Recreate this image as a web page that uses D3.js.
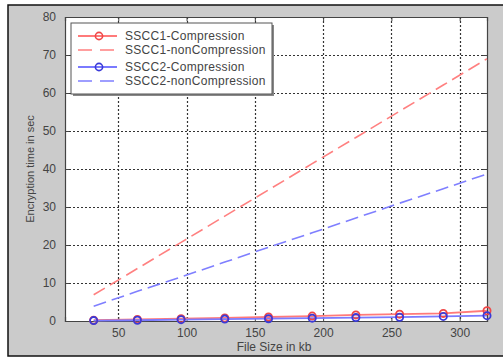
<!DOCTYPE html>
<html>
<head>
<meta charset="utf-8">
<script src="https://cdn.jsdelivr.net/npm/d3@7"></script>
<style>
  body { margin: 0; background: #fff; }
  svg { display: block; }
  text { font-family: "Liberation Sans", Arial, sans-serif; fill: #444; }
</style>
</head>
<body>
<div id="chart"></div>
<script>
// file sizes (kb)
const fileSizes = [32, 64, 96, 128, 160, 192, 224, 256, 288, 320];
// encryption time in sec
const sscc1Comp = [0.2, 0.4, 0.6, 0.8, 1.05, 1.3, 1.6, 1.8, 2.0, 2.7];
const sscc1NonComp = [6.9, 13.8, 20.7, 27.6, 34.5, 41.4, 48.3, 55.2, 62.1, 69.0];
const sscc2Comp = [0.1, 0.2, 0.35, 0.5, 0.6, 0.75, 0.9, 1.0, 1.2, 1.4];
const sscc2NonComp = [3.9, 7.8, 11.6, 15.5, 19.4, 23.2, 27.1, 31.0, 34.8, 38.7];

const xTicks = [50, 100, 150, 200, 250, 300];
const yTicks = [0, 10, 20, 30, 40, 50, 60, 70, 80];

const series = [
  { name: 'SSCC1-Compression', values: sscc1Comp, color: '#ff7a7a', marker: '#f04848', dash: null },
  { name: 'SSCC1-nonCompression', values: sscc1NonComp, color: '#ff8080', marker: null, dash: '13,6' },
  { name: 'SSCC2-Compression', values: sscc2Comp, color: '#7a7aff', marker: '#3a3ad8', dash: null },
  { name: 'SSCC2-nonCompression', values: sscc2NonComp, color: '#7f7fff', marker: null, dash: '13,6' },
];

const W = 503, H = 358;
const plot = { left: 65, top: 17, right: 487, bottom: 321 };

const svg = d3.select('#chart').append('svg').attr('width', W).attr('height', H);

// figure frame
svg.append('rect')
  .attr('x', 8).attr('y', 5).attr('width', W).attr('height', 351)
  .attr('fill', '#cbcbcb').attr('stroke', '#111').attr('stroke-width', 1.5);

const x = d3.scaleLinear().domain([11, 320]).range([plot.left, plot.right]);
const y = d3.scaleLinear().domain([0, 80]).range([plot.bottom, plot.top]);

// axes box
svg.append('rect')
  .attr('x', plot.left).attr('y', plot.top)
  .attr('width', plot.right - plot.left).attr('height', plot.bottom - plot.top)
  .attr('fill', '#fff');

// grid
const grid = svg.append('g').attr('stroke', '#333').attr('stroke-width', 1.2).attr('stroke-dasharray', '2,2');
grid.selectAll('.gx').data(xTicks).join('line')
  .attr('x1', d => Math.round(x(d)) + 0.5).attr('x2', d => Math.round(x(d)) + 0.5)
  .attr('y1', plot.top).attr('y2', plot.bottom);
grid.selectAll('.gy').data(yTicks.filter(d => d > 0 && d < 80)).join('line')
  .attr('y1', d => Math.round(y(d)) + 0.5).attr('y2', d => Math.round(y(d)) + 0.5)
  .attr('x1', plot.left).attr('x2', plot.right);

// axes with inward ticks on all sides
const axisG = svg.append('g');
axisG.append('g').attr('transform', `translate(0,${plot.bottom})`)
  .call(d3.axisBottom(x).tickValues(xTicks).tickSize(-4).tickPadding(7));
axisG.append('g').attr('transform', `translate(0,${plot.top})`)
  .call(d3.axisTop(x).tickValues(xTicks).tickSize(-4).tickFormat(''));
axisG.append('g').attr('transform', `translate(${plot.left},0)`)
  .call(d3.axisLeft(y).tickValues(yTicks).tickSize(-4).tickPadding(9));
axisG.append('g').attr('transform', `translate(${plot.right},0)`)
  .call(d3.axisRight(y).tickValues(yTicks).tickSize(-4).tickFormat(''));
axisG.selectAll('.domain').attr('stroke', '#444').attr('stroke-width', 1.2);
axisG.selectAll('.tick line').attr('stroke', '#444');
axisG.selectAll('.tick text').attr('font-size', 12).attr('fill', '#444')
  .style('font-family', '"Liberation Sans", Arial, sans-serif');

// lines
const line = d3.line().x((d, i) => x(fileSizes[i])).y(d => y(d));
const lines = svg.append('g');
series.forEach(s => {
  lines.append('path').datum(s.values)
    .attr('d', line).attr('fill', 'none')
    .attr('stroke', s.color).attr('stroke-width', s.dash ? 1.6 : 1.8)
    .attr('stroke-dasharray', s.dash);
});
series.filter(s => s.marker).forEach(s => {
  lines.append('g').selectAll('circle').data(s.values).join('circle')
    .attr('cx', (d, i) => x(fileSizes[i])).attr('cy', d => y(d)).attr('r', 3.6)
    .attr('fill', 'none').attr('stroke', s.marker).attr('stroke-width', 1.8);
});

// legend
const lg = svg.append('g');
lg.append('rect').attr('x', 73).attr('y', 25).attr('width', 201).attr('height', 71).attr('fill', '#888');
lg.append('rect').attr('x', 71).attr('y', 23).attr('width', 201).attr('height', 71)
  .attr('fill', '#fff').attr('stroke', '#555').attr('stroke-width', 1);
const rowY = [36, 50, 67, 81];
series.forEach((s, i) => {
  const ry = rowY[i];
  lg.append('line').attr('x1', 78).attr('x2', 117).attr('y1', ry).attr('y2', ry)
    .attr('stroke', s.color).attr('stroke-width', s.dash ? 1.6 : 1.8)
    .attr('stroke-dasharray', s.dash ? '14,8' : null);
  if (s.marker) {
    lg.append('circle').attr('cx', 99).attr('cy', ry).attr('r', 3.6)
      .attr('fill', 'none').attr('stroke', s.marker).attr('stroke-width', 1.6);
  }
  lg.append('text').attr('x', 125).attr('y', ry).attr('dy', '0.35em')
    .attr('font-size', 12).attr('letter-spacing', 0.3).text(s.name);
});

// axis labels
svg.append('text').attr('x', 274).attr('y', 347).attr('dy', '0.35em')
  .attr('text-anchor', 'middle').attr('font-size', 12).text('File Size in kb');
svg.append('text').attr('transform', 'translate(30,169) rotate(-90)')
  .attr('dy', '0.35em').attr('text-anchor', 'middle').attr('font-size', 11)
  .text('Encryption time in sec');
</script>
</body>
</html>
